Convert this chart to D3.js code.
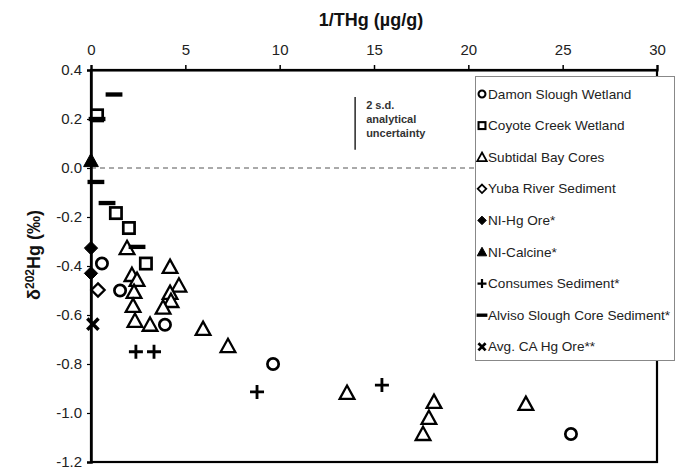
<!DOCTYPE html>
<html>
<head>
<meta charset="utf-8">
<script src="https://cdn.jsdelivr.net/npm/d3@7/dist/d3.min.js"></script>
<style>
  html, body { margin: 0; padding: 0; background: #fff; }
  svg { display: block; font-family: "Liberation Sans", Arial, sans-serif; }
</style>
</head>
<body>
<svg id="chart" width="681" height="471"></svg>
<script>
// δ202Hg versus 1/THg for Bay Area sediments and ores

const xTicks = [0, 5, 10, 15, 20, 25, 30];
const yTicks = [0.4, 0.2, 0.0, -0.2, -0.4, -0.6, -0.8, -1.0, -1.2];

// [1/THg, δ202Hg]
const damonSlough = [[0.58, -0.39], [1.54, -0.50], [3.92, -0.64], [9.65, -0.80], [25.44, -1.086]];
const coyoteCreek = [[0.32, 0.215], [1.32, -0.184], [2.01, -0.245], [2.91, -0.39]];
const subtidalBay = [
  [1.91, -0.327], [2.17, -0.437], [2.44, -0.457], [2.28, -0.506], [2.23, -0.563],
  [2.33, -0.624], [3.13, -0.64], [4.19, -0.404], [4.66, -0.48], [4.19, -0.51],
  [4.24, -0.543], [3.82, -0.57], [5.94, -0.657], [7.26, -0.727], [13.57, -0.918],
  [18.18, -0.955], [17.91, -1.02], [17.6, -1.086], [23.05, -0.963]
];
const yubaRiver = [[0.37, -0.498]];
const niHgOre = [[0.0, -0.327], [0.0, -0.43]];
const niCalcine = [[0.0, 0.03]];
const consumes = [[2.38, -0.75], [3.34, -0.75], [8.8, -0.914], [15.42, -0.886]];
const alvisoSlough = [[1.22, 0.30], [0.32, 0.20], [0.26, -0.057], [0.85, -0.143], [2.44, -0.322]];
const avgCaOre = [[0.1, -0.637]];

const seriesNames = [
  "Damon Slough Wetland", "Coyote Creek Wetland", "Subtidal Bay Cores",
  "Yuba River Sediment", "NI-Hg Ore*", "NI-Calcine*", "Consumes Sediment*",
  "Alviso Slough Core Sediment*", "Avg. CA Hg Ore**"
];
const seriesData = [damonSlough, coyoteCreek, subtidalBay, yubaRiver, niHgOre,
  niCalcine, consumes, alvisoSlough, avgCaOre];
const seriesShapes = ["circle", "square", "triangle", "diamondOpen", "diamondFilled",
  "triangleFilled", "plus", "dash", "cross"];

// analytical uncertainty bar (δ202Hg span)
const uncertaintySpan = [0.29, 0.075];
const uncertaintyX = 14.0;
const uncertaintyLines = ["2 s.d.", "analytical", "uncertainty"];

const svg = d3.select("#chart");
const margin = { left: 91, right: 24, top: 70, bottom: 9 };
const W = 681, H = 471;

const x = d3.scaleLinear().domain([0, 30]).range([margin.left, W - margin.right]);
const y = d3.scaleLinear().domain([-1.2, 0.4]).range([H - margin.bottom, margin.top]);

// frame
svg.append("rect")
  .attr("x", x(0)).attr("y", y(0.4))
  .attr("width", x(30) - x(0)).attr("height", y(-1.2) - y(0.4))
  .attr("fill", "none").attr("stroke", "#000").attr("stroke-width", 2.2);

// zero reference line
svg.append("line")
  .attr("x1", x(0)).attr("x2", x(30))
  .attr("y1", y(0)).attr("y2", y(0))
  .attr("stroke", "#555").attr("stroke-width", 1)
  .attr("stroke-dasharray", "5,4");

// top axis
const xAxis = svg.append("g")
  .attr("transform", `translate(0,${y(0.4)})`)
  .call(d3.axisTop(x).tickValues(xTicks).tickFormat(d3.format("d")).tickSize(5).tickPadding(10));
xAxis.select(".domain").attr("stroke-width", 2.2);
xAxis.selectAll(".tick line").attr("stroke-width", 1.5);
xAxis.selectAll("text").attr("font-size", 15).attr("fill", "#222");

// left axis
const yAxis = svg.append("g")
  .attr("transform", `translate(${x(0)},0)`)
  .call(d3.axisLeft(y).tickValues(yTicks).tickFormat(d3.format(".1f")).tickSize(4).tickPadding(5));
yAxis.select(".domain").attr("stroke-width", 2.5);
yAxis.selectAll(".tick line").attr("stroke-width", 1.2);
yAxis.selectAll("text").attr("font-size", 15).attr("fill", "#222")
  .text(d => d3.format(".1f")(d).replace("−", "-"));

// axis titles
svg.append("text")
  .attr("x", 371).attr("y", 26)
  .attr("text-anchor", "middle")
  .attr("font-size", 18).attr("font-weight", "bold").attr("fill", "#111")
  .text("1/THg (µg/g)");

const yt = svg.append("text")
  .attr("transform", "translate(40,255) rotate(-90)")
  .attr("text-anchor", "middle")
  .attr("font-size", 18).attr("font-weight", "bold").attr("fill", "#111");
yt.append("tspan").text("δ");
yt.append("tspan").attr("font-size", 12).attr("dy", -6).text("202");
yt.append("tspan").attr("dy", 6).text("Hg (‰)");

// marker drawing
function drawMarker(g, shape, s) {
  const sw = s > 9 ? 2.7 : 2.1;
  const h = s / 2;
  switch (shape) {
    case "circle":
      g.append("circle").attr("r", h - sw / 2).attr("fill", "#fff")
        .attr("stroke", "#000").attr("stroke-width", sw);
      break;
    case "square":
      g.append("rect").attr("x", -h + sw / 2).attr("y", -h + sw / 2)
        .attr("width", s - sw).attr("height", s - sw)
        .attr("fill", "#fff").attr("stroke", "#000").attr("stroke-width", sw);
      break;
    case "triangle":
    case "triangleFilled": {
      const t = shape === "triangle";
      const p = [[0, -h * 1.05], [h * 1.05, h * 0.85], [-h * 1.05, h * 0.85]];
      g.append("path").attr("d", "M" + p.join("L") + "Z")
        .attr("fill", t ? "#fff" : "#000").attr("stroke", "#000")
        .attr("stroke-width", t ? sw * 0.85 : 1).attr("stroke-linejoin", "miter");
      break;
    }
    case "diamondOpen":
    case "diamondFilled": {
      const o = shape === "diamondOpen";
      const d = h * 0.95;
      g.append("path").attr("d", `M0,${-d}L${d},0L0,${d}L${-d},0Z`)
        .attr("fill", o ? "#fff" : "#000").attr("stroke", "#000")
        .attr("stroke-width", o ? sw * 0.85 : 1);
      break;
    }
    case "plus":
      g.append("path").attr("d", `M${-h},0H${h}M0,${-h}V${h}`)
        .attr("stroke", "#000").attr("stroke-width", sw * 1.05);
      break;
    case "dash":
      g.append("rect").attr("x", -h * 1.2).attr("y", -sw * 0.8)
        .attr("width", h * 2.4).attr("height", sw * 1.6).attr("fill", "#000");
      break;
    case "cross":
      g.append("path").attr("d", `M${-h * 0.8},${-h * 0.8}L${h * 0.8},${h * 0.8}M${h * 0.8},${-h * 0.8}L${-h * 0.8},${h * 0.8}`)
        .attr("stroke", "#000").attr("stroke-width", sw * 1.3);
      break;
  }
}

// data points
const pts = svg.append("g");
seriesData.forEach((data, i) => {
  data.forEach(d => {
    const g = pts.append("g").attr("transform", `translate(${x(d[0])},${y(d[1])})`);
    drawMarker(g, seriesShapes[i], 14);
  });
});

// uncertainty bar and note
svg.append("line")
  .attr("x1", x(uncertaintyX)).attr("x2", x(uncertaintyX))
  .attr("y1", y(uncertaintySpan[0])).attr("y2", y(uncertaintySpan[1]))
  .attr("stroke", "#333").attr("stroke-width", 1.6);
svg.append("g").selectAll("text").data(uncertaintyLines).join("text")
  .attr("x", x(uncertaintyX) + 11)
  .attr("y", (d, i) => y(uncertaintySpan[0]) + 12 + i * 14)
  .attr("font-size", 11).attr("font-weight", "bold").attr("fill", "#333")
  .text(d => d);

// legend
const lg = svg.append("g");
lg.append("rect").attr("x", 475.5).attr("y", 76.5).attr("width", 199).attr("height", 284)
  .attr("fill", "#fff").attr("stroke", "#888").attr("stroke-width", 1);
seriesNames.forEach((name, i) => {
  const cy = 94 + i * 31.6;
  const g = lg.append("g").attr("transform", `translate(482,${cy})`);
  drawMarker(g, seriesShapes[i], 9);
  lg.append("text").attr("x", 488).attr("y", cy + 4.5)
    .attr("font-size", 13.6).attr("fill", "#222").text(name);
});
</script>
</body>
</html>
